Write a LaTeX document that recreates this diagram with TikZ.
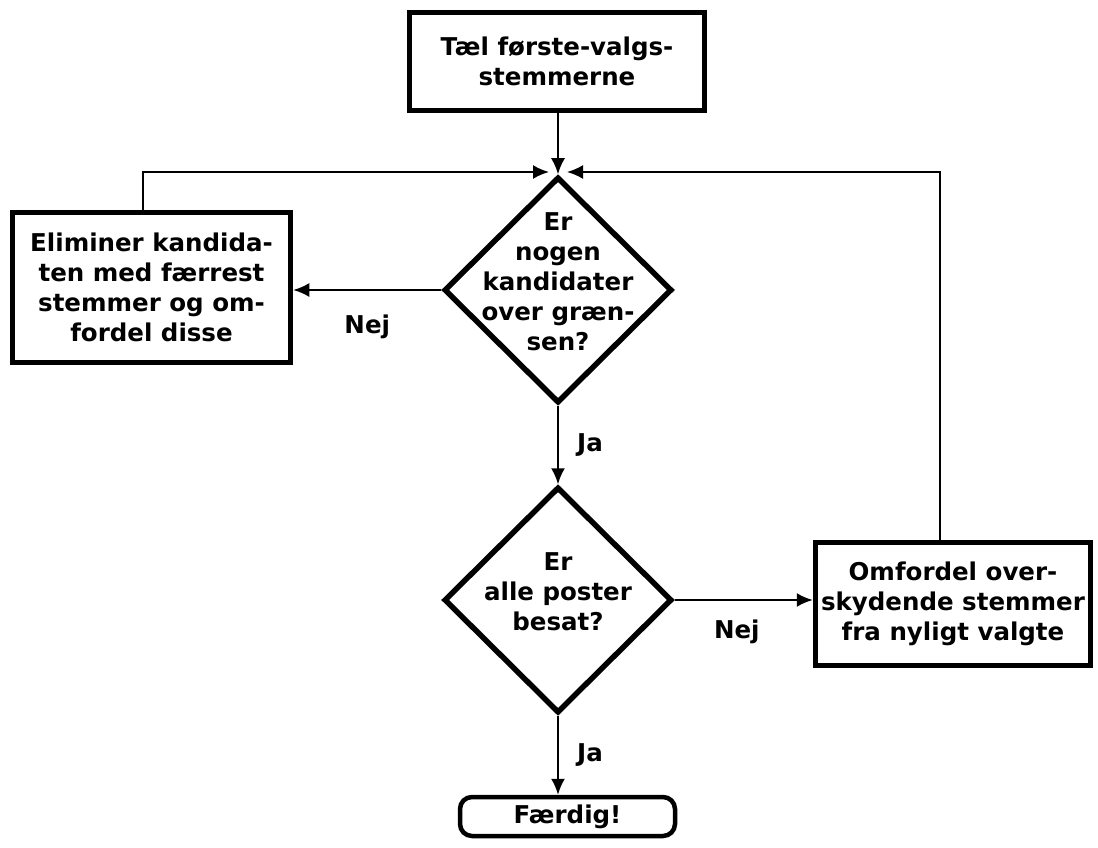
\documentclass[tikz,border=0pt]{standalone}
\usepackage{fontspec}
\setmainfont{DejaVu Sans}
\usetikzlibrary{shapes.geometric,arrows.meta}
\begin{document}
\begin{tikzpicture}[x=1pt,y=-1pt,
  every node/.style={font=\fontsize{24.5}{30}\selectfont\bfseries, align=center},
  boxnode/.style={draw, line width=5.5pt, rectangle, inner sep=0pt},
  dianode/.style={draw, line width=5.5pt, diamond, inner sep=0pt, minimum width=228pt, minimum height=226pt},
  endnode/.style={draw, line width=4.5pt, rectangle, rounded corners=12pt, inner sep=0pt},
  conn/.style={line width=2pt, -{Latex[length=16pt,width=14pt]}},
  lbl/.style={inner sep=0pt}]
\useasboundingbox (0,0) rectangle (1098,848);
\node[boxnode, minimum width=295pt, minimum height=98pt] (tb) at (557,61.5) {Tæl første-valgs-\\stemmerne};
\node[dianode] (d1) at (558,290) {};
\node[lbl] (d1t) at (558,282) {Er\\nogen\\kandidater\\over græn-\\sen?};
\node[dianode] (d2) at (558,600) {};
\node[lbl] (d2t) at (558,592) {Er\\alle poster\\besat?};
\node[boxnode, minimum width=278pt, minimum height=150pt] (lb) at (151.5,287.5) {Eliminer kandida-\\ten med færrest\\stemmer og om-\\fordel disse};
\node[boxnode, minimum width=275pt, minimum height=123pt] (rb) at (953,604) {Omfordel over-\\skydende stemmer\\fra nyligt valgte};
\node[endnode, minimum width=215pt, minimum height=39pt] (fin) at (567.5,816.5) {Færdig!};
\coordinate (lc) at (143,172);
\coordinate (rc) at (940,172);
\draw[conn] (tb.south -| d1.north) -- (d1.north);
\draw[conn, shorten >=9pt] (lc |- lb.north) -- (lc) -- (lc -| d1.north);
\draw[conn, shorten >=9pt] (rc |- rb.north) -- (rc) -- (rc -| d1.north);
\draw[conn] (d1.west) -- (d1.west -| lb.east) node[lbl, pos=0.5, yshift=-37pt] (n1) {Nej};
\draw[conn] (d1.south) -- (d2.north) node[lbl, pos=0.5, xshift=32pt] (j1) {Ja};
\draw[conn] (d2.east) -- (d2.east -| rb.west) node[lbl, pos=0.45, yshift=-32pt] (n2) {Nej};
\draw[conn] (d2.south) -- (d2.south |- fin.north) node[lbl, pos=0.5, xshift=32pt] (j2) {Ja};
\end{tikzpicture}
\end{document}
